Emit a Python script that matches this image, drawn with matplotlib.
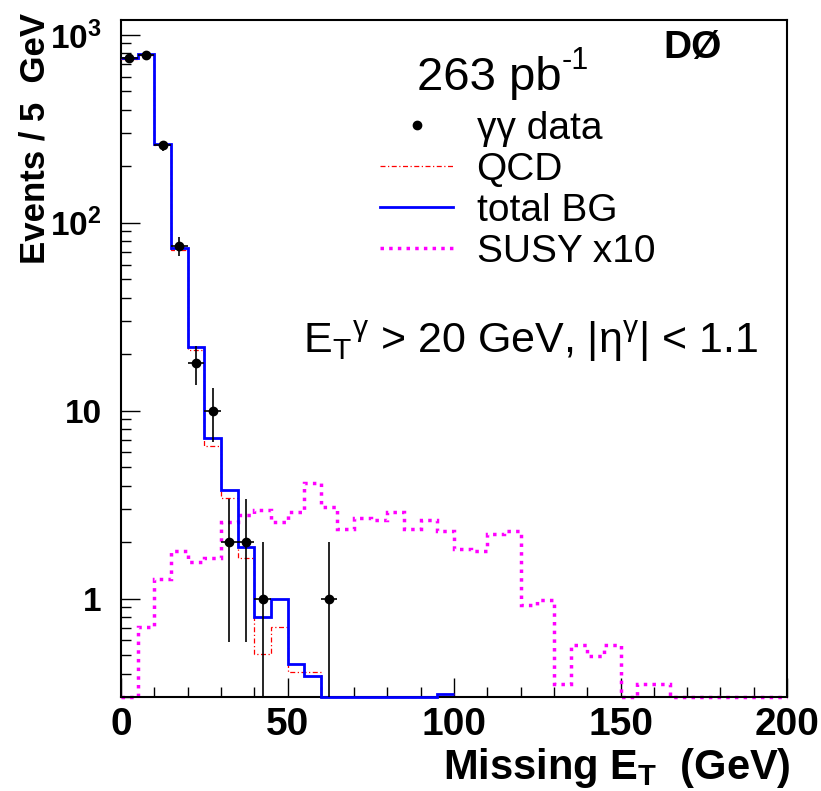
import matplotlib
matplotlib.use('Agg')
import matplotlib.pyplot as plt
from matplotlib.ticker import MultipleLocator, LogLocator, FixedLocator, FuncFormatter, NullFormatter
from matplotlib.lines import Line2D
import numpy as np

plt.rcParams['font.family'] = ['Liberation Sans', 'DejaVu Sans']
plt.rcParams['mathtext.fontset'] = 'custom'
plt.rcParams['mathtext.rm'] = 'Liberation Sans'
plt.rcParams['mathtext.it'] = 'Liberation Sans:italic'
plt.rcParams['mathtext.bf'] = 'Liberation Sans:bold'
plt.rcParams['mathtext.sf'] = 'Liberation Sans'

# histogram binning, 5 GeV bins
edges_bg = np.arange(0, 105, 5)      # backgrounds drawn up to 100 GeV
edges_susy = np.arange(0, 205, 5)    # signal drawn up to 200 GeV

# gamma gamma data (bin centres, counts)
data_x = [2.5, 7.5, 12.5, 17.5, 22.5, 27.5, 32.5, 37.5, 42.5, 62.5]
data_y = [750, 785, 258, 75, 18, 10, 2, 2, 1, 1]

# QCD background
qcd = [740, 780, 258, 72, 21, 6.5, 3.45, 1.64, 0.51, 0.71,
       0.41, 0.41, 0.3, 0.3, 0.3, 0.3, 0.3, 0.3, 0.3, 0.31]

# total background
total_bg = [750, 788, 262, 73.5, 21.8, 7.2, 3.8, 1.88, 0.8, 1.0,
            0.45, 0.39, 0.3, 0.3, 0.3, 0.3, 0.3, 0.3, 0.3, 0.31]

# SUSY signal x10
susy = [0.3, 0.71, 1.27, 1.79, 1.56, 1.64, 2.55, 2.79, 2.97, 2.57,
        2.91, 4.13, 3.07, 2.35, 2.68, 2.63, 2.91, 2.35, 2.63, 2.28,
        1.84, 1.79, 2.21, 2.28, 0.925, 0.99, 0.354, 0.567, 0.497, 0.567,
        0.3, 0.354, 0.354, 0.3, 0.3, 0.3, 0.3, 0.3, 0.3, 0.3]

y_labels = {1: '1', 10: '10', 100: r'$\mathbf{10^{2}}$', 1000: r'$\mathbf{10^{3}}$'}

fig = plt.figure(figsize=(8.21, 7.91), dpi=100)
ax = fig.add_axes([0.1474, 0.1188, 0.8112, 0.8559])

ax.stairs(susy, edges_susy, baseline=None, color='#ff00ff', lw=2.5,
          linestyle=(0, (1, 1.5)), clip_on=False, zorder=2)
ax.stairs(qcd, edges_bg, baseline=None, color='red', lw=0.9,
          linestyle=(0, (4, 2, 1, 2)), clip_on=False, zorder=3)
ax.stairs(total_bg, edges_bg, baseline=None, color='#0000ff', lw=2.0,
          clip_on=False, zorder=4)
ax.errorbar(data_x, data_y, xerr=2.5, yerr=np.sqrt(data_y), fmt='o',
            color='black', ms=6, elinewidth=1.2, capsize=0, zorder=5)

ax.set_yscale('log')
ax.set_xlim(0, 200)
ax.set_ylim(0.3, 1200)

ax.xaxis.set_major_locator(MultipleLocator(50))
ax.xaxis.set_minor_locator(MultipleLocator(10))
ax.yaxis.set_major_locator(FixedLocator([1, 10, 100, 1000]))
ax.yaxis.set_minor_locator(LogLocator(base=10, subs=np.arange(2, 10)))
ax.yaxis.set_major_formatter(FuncFormatter(lambda v, p: y_labels.get(int(round(v)), '')))
ax.yaxis.set_minor_formatter(NullFormatter())

ax.tick_params(which='both', direction='in', top=False, right=False, width=1.0)
ax.tick_params(which='major', length=14)
ax.tick_params(which='minor', length=7)
ax.tick_params(axis='x', labelsize=28, pad=7)
ax.tick_params(axis='y', labelsize=24, pad=14)
for lab in ax.get_xticklabels() + ax.get_yticklabels():
    lab.set_fontweight('bold')
for s in ax.spines.values():
    s.set_linewidth(1.5)

ax.set_xlabel(r'Missing E$_\mathbf{T}$  (GeV)', fontsize=30, fontweight='bold')
ax.xaxis.set_label_coords(1.005, -0.072)
ax.xaxis.label.set_horizontalalignment('right')
ax.set_ylabel('Events / 5  GeV', fontsize=25, fontweight='bold')
ax.yaxis.set_label_coords(-0.105, 1.01)
ax.yaxis.label.set_horizontalalignment('right')

lumi = ax.text(0.444, 0.897, '263 pb', transform=ax.transAxes,
               fontsize=34, va='baseline')
ax.annotate('-1', xy=(1.0, 0.55), xycoords=lumi, fontsize=22,
            ha='left', va='bottom')
ax.text(0.814, 0.944, 'DØ', transform=ax.transAxes, fontsize=28,
        fontweight='bold', va='baseline')
ax.text(0.274, 0.508, r'$\mathrm{E_T{}^{γ}}$ > 20 GeV, |η$^{\mathrm{γ}}$| < 1.1',
        transform=ax.transAxes, fontsize=31, va='baseline')

handles = [
    Line2D([], [], marker='o', ls='none', color='black', ms=6),
    Line2D([], [], color='red', lw=0.9, linestyle=(0, (4, 2, 1, 2))),
    Line2D([], [], color='#0000ff', lw=2.0),
    Line2D([], [], color='#ff00ff', lw=2.5, linestyle=(0, (1, 1.5))),
]
labels = ['γγ data', 'QCD', 'total BG', 'SUSY x10']
ax.legend(handles, labels, loc='upper left', bbox_to_anchor=(0.389, 0.866),
          fontsize=28, frameon=False, labelspacing=0.13, handlelength=1.88,
          handletextpad=0.6, borderpad=0, borderaxespad=0)

fig.savefig('out.png', dpi=100)
